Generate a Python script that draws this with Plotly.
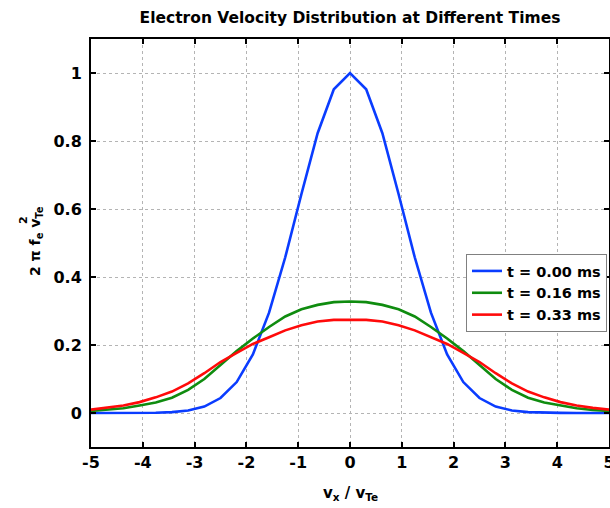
import plotly.graph_objects as go

# velocity grid (v_x / v_Te), 33 samples across [-5, 5]
VX = [
    -5.0, -4.6875, -4.375, -4.0625, -3.75, -3.4375, -3.125, -2.8125,
    -2.5, -2.1875, -1.875, -1.5625, -1.25, -0.9375, -0.625, -0.3125,
    0.0,
    0.3125, 0.625, 0.9375, 1.25, 1.5625, 1.875, 2.1875, 2.5,
    2.8125, 3.125, 3.4375, 3.75, 4.0625, 4.375, 4.6875, 5.0,
]

F_T000 = [
    0.0, 0.0, 0.0, 0.0003, 0.0009, 0.0027, 0.0076, 0.019,
    0.044, 0.091, 0.172, 0.295, 0.458, 0.644, 0.823, 0.952,
    1.0,
    0.952, 0.823, 0.644, 0.458, 0.295, 0.172, 0.091, 0.044,
    0.019, 0.0076, 0.0027, 0.0009, 0.0003, 0.0, 0.0, 0.0,
]

F_T016 = [
    0.006, 0.009, 0.014, 0.022, 0.031, 0.045, 0.068, 0.100,
    0.141, 0.182, 0.219, 0.253, 0.284, 0.305, 0.318, 0.326,
    0.328,
    0.326, 0.318, 0.305, 0.284, 0.253, 0.219, 0.182, 0.141,
    0.100, 0.068, 0.045, 0.031, 0.022, 0.014, 0.009, 0.006,
]

F_T033 = [
    0.010, 0.015, 0.022, 0.032, 0.046, 0.063, 0.087, 0.117,
    0.150, 0.177, 0.203, 0.223, 0.243, 0.258, 0.269, 0.274,
    0.275,
    0.274, 0.269, 0.258, 0.243, 0.223, 0.203, 0.177, 0.150,
    0.117, 0.087, 0.063, 0.046, 0.032, 0.022, 0.015, 0.010,
]

SERIES = [
    ("t = 0.00 ms", F_T000, "#0a3cff"),
    ("t = 0.16 ms", F_T016, "#0f8c0f"),
    ("t = 0.33 ms", F_T033, "#ff0a0a"),
]

X_TICKS = [-5, -4, -3, -2, -1, 0, 1, 2, 3, 4, 5]
X_TICK_LABELS = ["-5", "-4", "-3", "-2", "-1", "0", "1", "2", "3", "4", "5"]
Y_TICKS = [0, 0.2, 0.4, 0.6, 0.8, 1]
Y_TICK_LABELS = ["0", "0.2", "0.4", "0.6", "0.8", "1"]

FONT = "DejaVu Sans, Arial, sans-serif"
GRID = "#b4b4b4"

# plot area in pixels, used to place the free-standing labels
PLOT_L, PLOT_R, PLOT_T, PLOT_B = 91, 609, 39, 447


def px_x(x):
    return (x - PLOT_L) / (PLOT_R - PLOT_L)


def px_y(y):
    return (PLOT_B - y) / (PLOT_B - PLOT_T)


fig = go.Figure()
for name, ys, color in SERIES:
    fig.add_trace(
        go.Scatter(
            x=VX,
            y=ys,
            mode="lines",
            name=name,
            line={"color": color, "width": 2.6},
        )
    )

axis_common = dict(
    showline=True,
    linecolor="black",
    linewidth=2,
    mirror="ticks",
    ticks="inside",
    ticklen=5,
    tickwidth=2,
    tickcolor="black",
    showgrid=True,
    gridcolor=GRID,
    gridwidth=1,
    griddash="dot",
    zeroline=False,
    automargin=False,
    ticklabeloverflow="allow",
    tickfont={"family": FONT, "size": 16, "color": "black", "weight": "bold"},
)

fig.update_xaxes(range=[-5, 5], tickvals=X_TICKS, ticktext=X_TICK_LABELS, **axis_common)
fig.update_yaxes(
    range=[-0.1, 1.1], tickvals=Y_TICKS, ticktext=Y_TICK_LABELS,
    ticklabelstandoff=4, **axis_common,
)

label_font = {"family": FONT, "size": 15, "color": "black", "weight": "bold"}
fig.add_annotation(
    text="v<sub>x</sub> / v<sub>Te</sub>",
    xref="paper", yref="paper",
    x=0.5, y=px_y(493),
    xanchor="center", yanchor="middle",
    showarrow=False,
    font=label_font,
)
fig.add_annotation(
    text="2 π f<sub>e</sub> v<sub>Te</sub>",
    xref="paper", yref="paper",
    x=px_x(36), y=px_y(241),
    xanchor="center", yanchor="middle",
    textangle=-90,
    showarrow=False,
    font={**label_font, "size": 14},
)
fig.add_annotation(
    text="2",
    xref="paper", yref="paper",
    x=px_x(23), y=px_y(220),
    xanchor="center", yanchor="middle",
    textangle=-90,
    showarrow=False,
    font={**label_font, "size": 11},
)

fig.update_layout(
    width=610,
    height=508,
    margin={"l": PLOT_L, "r": 610 - PLOT_R, "t": PLOT_T, "b": 508 - PLOT_B},
    paper_bgcolor="white",
    plot_bgcolor="white",
    font={"family": FONT, "color": "black"},
    title={
        "text": "Electron Velocity Distribution at Different Times",
        "x": 0.5,
        "xref": "paper",
        "xanchor": "center",
        "y": 1 - 18 / 508,
        "yanchor": "middle",
        "font": {"family": FONT, "size": 15.5, "color": "black", "weight": "bold"},
    },
    legend={
        "x": px_x(607),
        "y": px_y(254),
        "xanchor": "right",
        "yanchor": "top",
        "bgcolor": "white",
        "bordercolor": "#808080",
        "borderwidth": 1,
        "font": {"family": FONT, "size": 14.5, "color": "black", "weight": "bold"},
        "tracegroupgap": 0,
        "itemwidth": 30,
    },
    showlegend=True,
)

fig.write_html(
    "out.html",
    config={"displayModeBar": False},
    post_script="document.body.style.margin='0';document.body.style.overflow='hidden';",
)
